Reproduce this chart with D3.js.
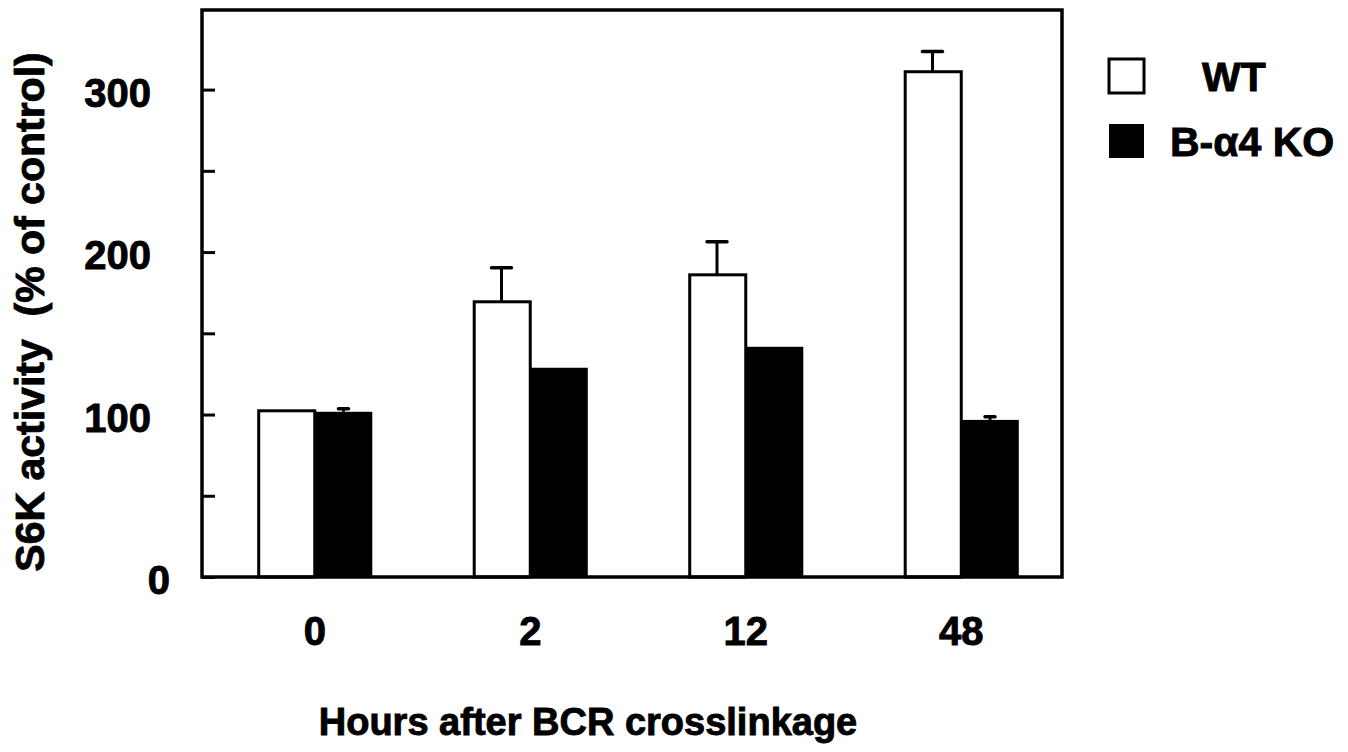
<!DOCTYPE html>
<html>
<head>
<meta charset="utf-8">
<script src="https://cdn.jsdelivr.net/npm/d3@7"></script>
<style>
	body { margin: 0; background: #fff; }
	text { font-family: "Liberation Sans", Arial, Helvetica, sans-serif; font-weight: bold; fill: #000; stroke: #000; stroke-width: 0.9px; }
</style>
</head>
<body>
<svg id="chart" width="1348" height="752"></svg>
<script>
// values (% of control)
var hours = ["0", "2", "12", "48"];
var series = ["WT", "B-\u03b14 KO"];
var wtValues = [102.3, 169.4, 186, 311];
var wtErrors = [0, 21, 20.4, 12.5];
var koValues = [101.7, 128.8, 141.7, 96.7];
var koErrors = [1.8, 0, 0, 1.9];
var yTicks = [0, 50, 100, 150, 200, 250, 300];
var yTickLabels = [0, 100, 200, 300];

var svg = d3.select("#chart");

var frame = {left: 202, right: 1062, top: 10, bottom: 577};

var y = d3.scaleLinear().domain([0, 349]).range([frame.bottom, frame.top]);

var x = d3.scaleBand().domain(hours)
	.range([207, 1069])
	.paddingInner(0.466)
	.paddingOuter(0.233);

var xSub = d3.scaleBand().domain(series).range([0, x.bandwidth()]);

var rows = hours.map(function(h, i){
	return [
		{hour: h, key: series[0], value: wtValues[i], err: wtErrors[i], cap: 20},
		{hour: h, key: series[1], value: koValues[i], err: koErrors[i], cap: 10}
	];
});

// bars
var groups = svg.append("g").selectAll("g").data(rows).enter()
	.append("g")
	.attr("transform", function(d){ return "translate(" + x(d[0].hour) + ",0)"; });

groups.selectAll("rect").data(function(d){ return d; }).enter()
	.append("rect")
	.attr("x", function(d){ return xSub(d.key) + (d.key == series[0] ? 1.5 : 0); })
	.attr("y", function(d){ return y(d.value); })
	.attr("width", function(d){ return xSub.bandwidth() - (d.key == series[0] ? 1.5 : 0); })
	.attr("height", function(d){ return y(0) - y(d.value); })
	.attr("fill", function(d){ return d.key == series[0] ? "#fff" : "#000"; })
	.attr("stroke", "#000")
	.attr("stroke-width", function(d){ return d.key == series[0] ? 3 : 0; });

// error bars (upper only)
var errs = groups.selectAll("g.err").data(function(d){ return d.filter(function(e){ return e.err > 0; }); })
	.enter().append("g").attr("class", "err");

errs.append("line")
	.attr("x1", function(d){ return xSub(d.key) + xSub.bandwidth()/2; })
	.attr("x2", function(d){ return xSub(d.key) + xSub.bandwidth()/2; })
	.attr("y1", function(d){ return y(d.value); })
	.attr("y2", function(d){ return y(d.value + d.err); })
	.attr("stroke", "#000").attr("stroke-width", 3);

errs.append("line")
	.attr("x1", function(d){ return xSub(d.key) + xSub.bandwidth()/2 - d.cap/2; })
	.attr("x2", function(d){ return xSub(d.key) + xSub.bandwidth()/2 + d.cap/2; })
	.attr("y1", function(d){ return y(d.value + d.err); })
	.attr("y2", function(d){ return y(d.value + d.err); })
	.attr("stroke", "#000").attr("stroke-width", 3.5)
	.attr("stroke-linecap", "round");

// frame
svg.append("rect")
	.attr("x", frame.left).attr("y", frame.top)
	.attr("width", frame.right - frame.left)
	.attr("height", frame.bottom - frame.top)
	.attr("fill", "none").attr("stroke", "#000").attr("stroke-width", 3.5);

// y ticks pointing inward
var yTickAxis = svg.append("g")
	.attr("transform", "translate(" + frame.left + ",0)")
	.call(d3.axisLeft(y).tickValues(yTicks).tickSize(-13).tickFormat(""));
yTickAxis.select(".domain").remove();
yTickAxis.selectAll("line").attr("stroke", "#000").attr("stroke-width", 3);

// y tick labels
var yLabelAxis = svg.append("g")
	.attr("transform", "translate(" + frame.left + ",0)")
	.call(d3.axisLeft(y).tickValues(yTickLabels).tickSize(0).tickPadding(51));
yLabelAxis.select(".domain").remove();
yLabelAxis.selectAll("text")
	.attr("font-size", "40px")
	.attr("font-family", null)
	.attr("dy", "0.42em")
	.attr("dx", function(d){ return d == 0 ? "19" : "0"; });

// x tick labels
var xAxis = svg.append("g")
	.attr("transform", "translate(0," + frame.bottom + ")")
	.call(d3.axisBottom(x).tickSize(0).tickPadding(40));
xAxis.select(".domain").remove();
xAxis.selectAll("text")
	.attr("font-size", "40px")
	.attr("font-family", null);

// axis titles
svg.append("text")
	.attr("x", 588).attr("y", 735)
	.attr("text-anchor", "middle")
	.attr("font-size", "38px")
	.text("Hours after BCR crosslinkage");

svg.append("text")
	.attr("transform", "translate(44,312) rotate(-90)")
	.attr("text-anchor", "middle")
	.attr("font-size", "41px")
	.attr("xml:space", "preserve")
	.text("S6K activity  (% of control)");

// legend
var legend = svg.append("g").selectAll("g").data(series).enter()
	.append("g")
	.attr("transform", function(d, i){ return "translate(1109," + (59 + i * 65) + ")"; });

legend.append("rect")
	.attr("width", 35).attr("height", 34)
	.attr("fill", function(d, i){ return i == 0 ? "#fff" : "#000"; })
	.attr("stroke", "#000")
	.attr("stroke-width", function(d, i){ return i == 0 ? 3 : 0; });

legend.append("text")
	.attr("x", function(d, i){ return i == 0 ? 93 : 61; })
	.attr("y", 17)
	.attr("dy", "0.36em")
	.attr("font-size", "41px")
	.text(function(d){ return d; });
</script>
</body>
</html>
